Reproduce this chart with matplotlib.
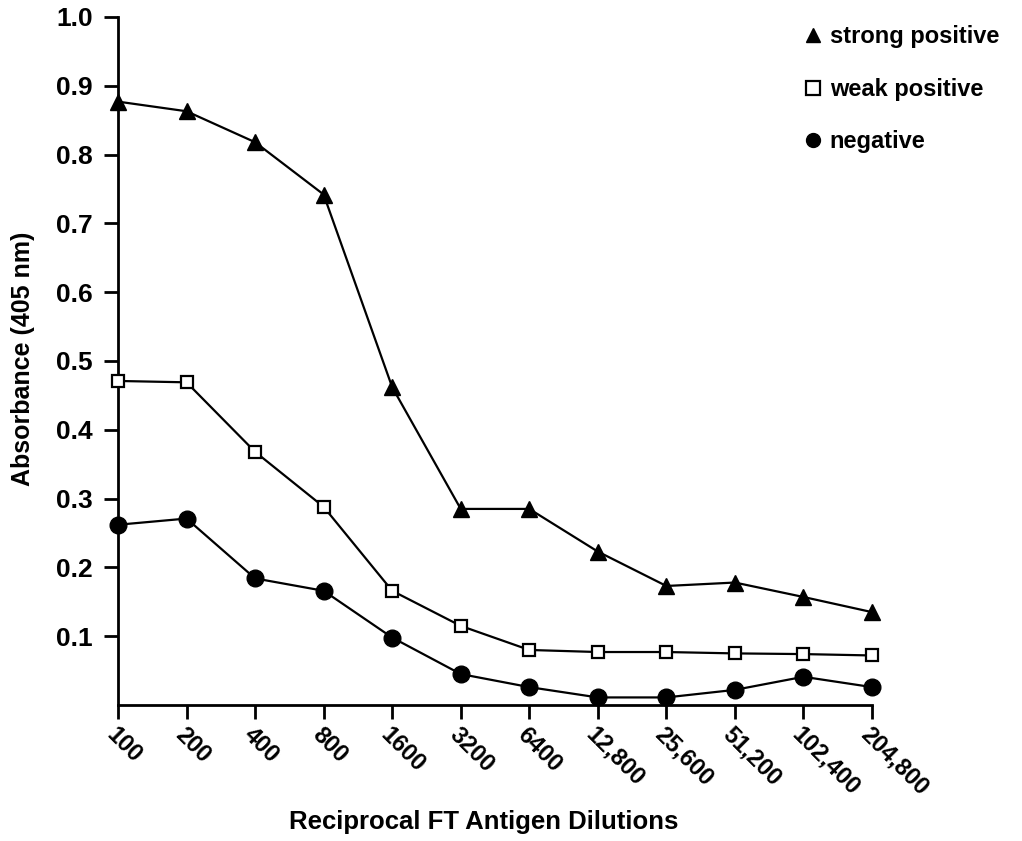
import matplotlib.pyplot as plt
from matplotlib.ticker import FixedLocator, FormatStrFormatter

plt.rcParams['font.family'] = ['Liberation Sans', 'DejaVu Sans']
plt.rcParams['font.weight'] = 'bold'

dilutions = ['100', '200', '400', '800', '1600', '3200', '6400',
             '12,800', '25,600', '51,200', '102,400', '204,800']

strong_positive = [0.877, 0.863, 0.818, 0.742, 0.462, 0.285, 0.285,
                   0.223, 0.173, 0.178, 0.157, 0.135]
weak_positive = [0.471, 0.469, 0.368, 0.288, 0.166, 0.115, 0.080,
                 0.077, 0.077, 0.075, 0.074, 0.072]
negative = [0.262, 0.271, 0.184, 0.166, 0.098, 0.045, 0.026,
            0.011, 0.011, 0.022, 0.041, 0.026]

yticks = [0.1, 0.2, 0.3, 0.4, 0.5, 0.6, 0.7, 0.8, 0.9, 1.0]

fig = plt.figure(figsize=(10.22, 8.41), dpi=100)
ax = fig.add_axes([118 / 1022, 136 / 841, 754 / 1022, 688 / 841])

x = list(range(len(dilutions)))
ax.plot(x, strong_positive, color='black', lw=1.6, marker='^', ms=11,
        mfc='black', mec='black', clip_on=False, label='strong positive', zorder=3)
ax.plot(x, weak_positive, color='black', lw=1.6, marker='s', ms=9,
        mfc='white', mec='black', mew=1.6, clip_on=False, label='weak positive', zorder=3)
ax.plot(x, negative, color='black', lw=1.6, marker='o', ms=12,
        mfc='black', mec='black', clip_on=False, label='negative', zorder=3)

ax.set_xlim(0, len(dilutions) - 1)
ax.set_ylim(0, 1.0)

for side in ['top', 'right']:
    ax.spines[side].set_visible(False)
for side in ['left', 'bottom']:
    ax.spines[side].set_linewidth(2)

ax.yaxis.set_major_locator(FixedLocator(yticks))
ax.yaxis.set_major_formatter(FormatStrFormatter('%.1f'))
ax.set_xticks(x)
ax.set_xticklabels(dilutions, rotation=-45, ha='left', va='top',
                   rotation_mode='anchor', fontsize=17, fontweight='bold')
ax.tick_params(axis='y', direction='out', length=10, width=2, labelsize=19, pad=8)
ax.tick_params(axis='x', direction='out', length=10, width=2, pad=3)
for lbl in ax.get_yticklabels():
    lbl.set_fontweight('bold')

ax.set_ylabel('Absorbance (405 nm)', fontsize=18, fontweight='bold', va='center')
ax.yaxis.set_label_coords(-0.126, 0.503)
ax.set_xlabel('Reciprocal FT Antigen Dilutions', fontsize=18.5, fontweight='bold',
              va='center')
ax.xaxis.set_label_coords(0.485, -0.170)

ax.legend(loc='upper left', bbox_to_anchor=(785 / 1022, 1 - 4 / 841),
          bbox_transform=fig.transFigure, frameon=False,
          handlelength=0.6, handletextpad=0.4, labelspacing=1.25,
          prop={'weight': 'bold', 'size': 17})
for h in ax.get_legend().legend_handles:
    h.set_linestyle('none')
    h.set_markersize(10)

fig.savefig('out.png', dpi=100)
